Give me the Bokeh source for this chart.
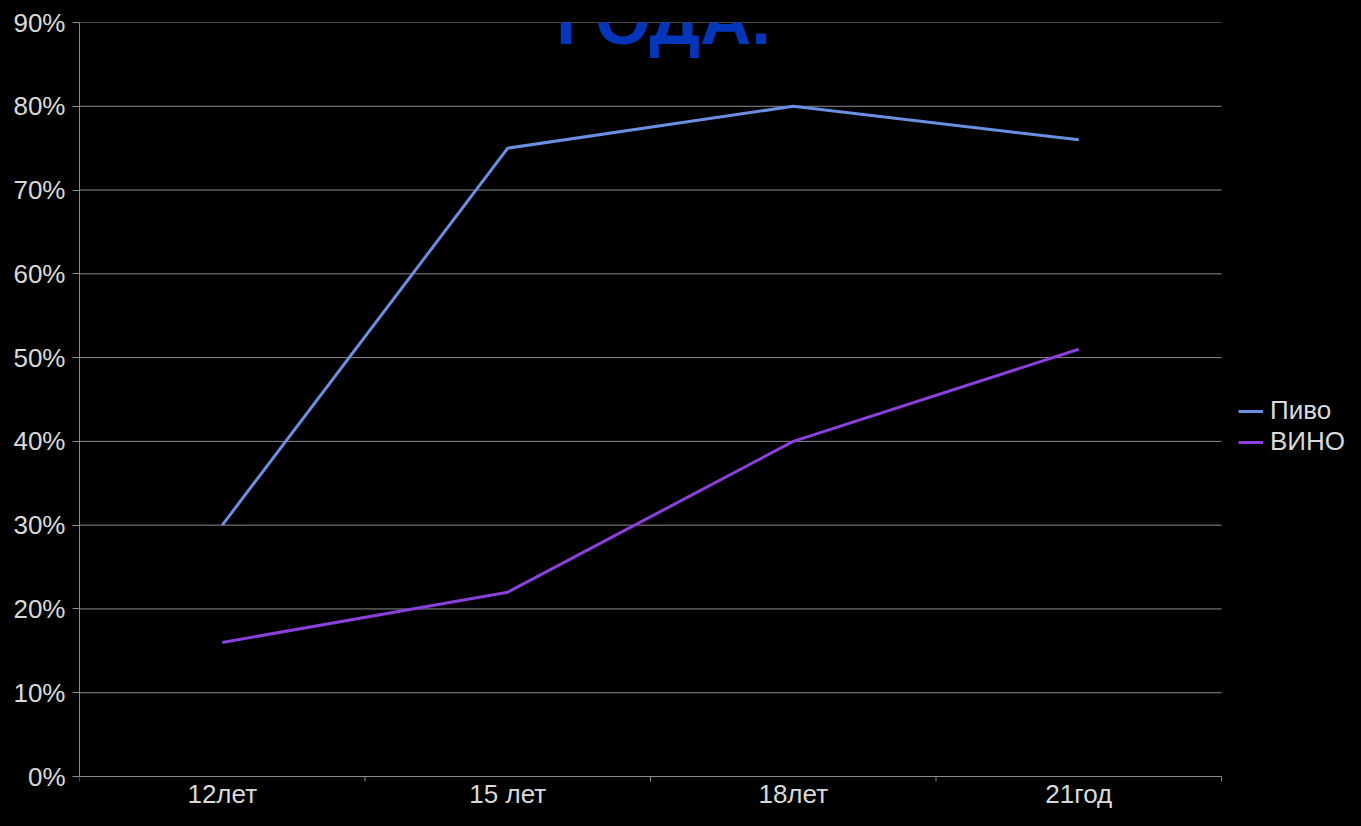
from bokeh.plotting import figure
from bokeh.models import FixedTicker, Legend, LegendItem, Label, NumeralTickFormatter, Range1d
from bokeh.embed import file_html
from bokeh.resources import INLINE

categories = ["12лет", "15 лет", "18лет", "21год"]
pivo = [0.30, 0.75, 0.80, 0.76]
vino = [0.16, 0.22, 0.40, 0.51]
y_ticks = [0.0, 0.1, 0.2, 0.3, 0.4, 0.5, 0.6, 0.7, 0.8, 0.9]
series_names = ["Пиво", "ВИНО"]
title_text = "ГОДА."

FONT = "Liberation Sans"
GRID = "#8c8c8c"
TXT = "#d9d9d9"
W, H = 1345, 810
LEFT, PLOT_RIGHT, TOP, BOTTOM = 79, 1221, 22, 776   # pixel positions of plot area (0% at BOTTOM)
Y_MAX = 0.9

n = len(categories)
xs = [i + 0.5 for i in range(n)]
x_end = n * (W - LEFT) / (PLOT_RIGHT - LEFT)
per_px = Y_MAX / (BOTTOM - TOP)
y_start = -(H - BOTTOM) * per_px

def px_to_x(px):
    return (px - LEFT) / (PLOT_RIGHT - LEFT) * n

def px_to_y(py):
    return (BOTTOM - py) * per_px

p = figure(width=W, height=H, output_backend="svg", toolbar_location=None,
           x_range=Range1d(0, x_end), y_range=Range1d(y_start, Y_MAX),
           min_border_left=LEFT, min_border_right=0, min_border_top=TOP,
           min_border_bottom=0)
p.background_fill_color = "black"
p.border_fill_color = "black"
p.outline_line_color = None
p.xaxis.visible = False
p.xgrid.grid_line_color = None
p.ygrid.grid_line_color = None

# gridlines limited to the plot area
p.segment(x0=[0] * len(y_ticks), x1=[n] * len(y_ticks), y0=y_ticks, y1=y_ticks,
          line_color=GRID, line_width=1)

# category boundary ticks below the axis
bounds = list(range(n + 1))
p.segment(x0=bounds, x1=bounds, y0=[0] * len(bounds), y1=[-5 * per_px] * len(bounds),
          line_color=GRID, line_width=1)

# y axis
p.yaxis.bounds = (0, Y_MAX)
p.yaxis.ticker = FixedTicker(ticks=y_ticks)
p.yaxis.formatter = NumeralTickFormatter(format="0%")
p.yaxis.axis_line_color = GRID
p.yaxis.major_tick_line_color = GRID
p.yaxis.major_tick_out = 7
p.yaxis.major_tick_in = 0
p.yaxis.minor_tick_line_color = None
p.yaxis.major_label_standoff = 7
p.yaxis.major_label_text_font = FONT
p.yaxis.major_label_text_font_size = "26px"
p.yaxis.major_label_text_color = TXT

# category labels below the axis
for x, c in zip(xs, categories):
    p.add_layout(Label(x=x, y=px_to_y(793), text=c, text_align="center",
                       text_baseline="middle", text_font=FONT, text_font_size="26px",
                       text_color=TXT))

r1 = p.line(xs, pivo, line_color="#6b8fe0", line_width=3)
r2 = p.line(xs, vino, line_color="#8b3fdc", line_width=3)

legend = Legend(items=[LegendItem(label=series_names[0], renderers=[r1]),
                       LegendItem(label=series_names[1], renderers=[r2])],
                location=(1159, 353), background_fill_alpha=0, border_line_color=None,
                padding=0, margin=0, spacing=0, glyph_width=25, glyph_height=20,
                label_height=20, label_standoff=7,
                label_text_font=FONT, label_text_font_size="26px", label_text_color=TXT)
p.add_layout(legend, "center")

title = Label(x=px_to_x(663), y=px_to_y(19),
              text=title_text, text_align="center", text_baseline="alphabetic",
              text_font=FONT, text_font_style="bold", text_font_size="71px",
              text_color="#0336bb")
p.add_layout(title)

html = file_html(p, INLINE)
html = html.replace("</head>", "<style>html, body { background-color: #000000; }</style></head>", 1)
open("out.html", "w").write(html)
